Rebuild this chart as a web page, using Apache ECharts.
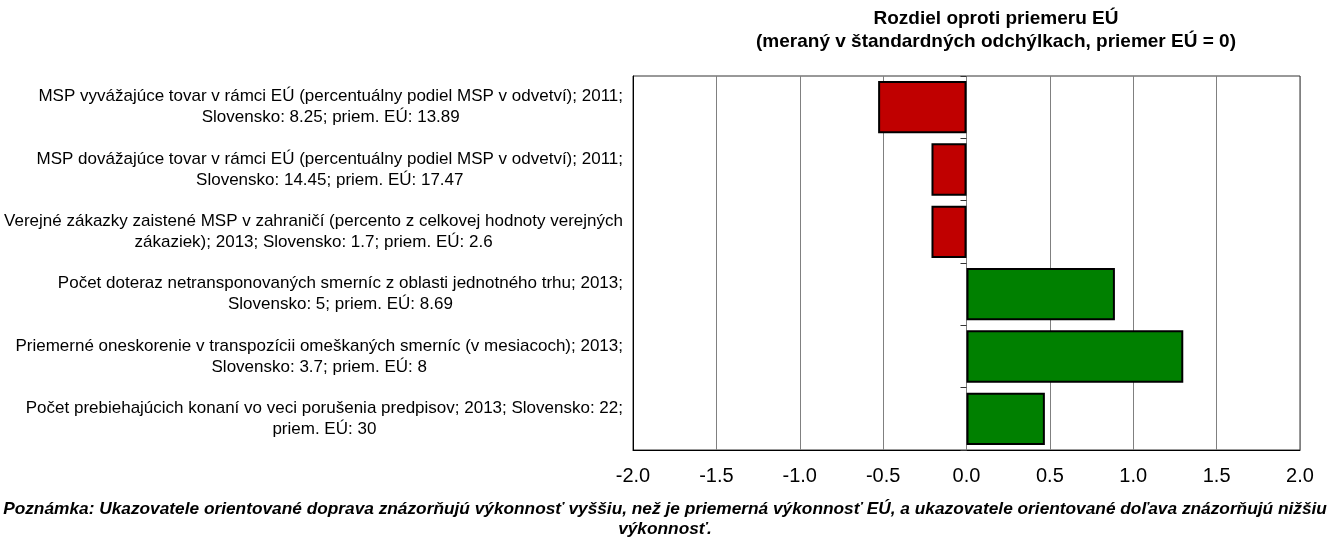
<!DOCTYPE html>
<html>
<head>
<meta charset="utf-8">
<title>Rozdiel oproti priemeru EÚ</title>
<script src="https://cdn.jsdelivr.net/npm/echarts@6/dist/echarts.min.js"></script>
<style>
  html, body { margin: 0; padding: 0; background: #fff; }
  #chart { width: 1330px; height: 540px; }
</style>
</head>
<body>
<div id="chart"></div>
<script>
// ukazovatele (zhora nadol)
var categories = [
    'MSP vyvážajúce tovar v rámci EÚ (percentuálny podiel MSP v odvetví); 2011;\nSlovensko: 8.25; priem. EÚ: 13.89',
    'MSP dovážajúce tovar v rámci EÚ (percentuálny podiel MSP v odvetví); 2011;\nSlovensko: 14.45; priem. EÚ: 17.47',
    'Verejné zákazky zaistené MSP v zahraničí (percento z celkovej hodnoty verejných\nzákaziek); 2013; Slovensko: 1.7; priem. EÚ: 2.6',
    'Počet doteraz netransponovaných smerníc z oblasti jednotného trhu; 2013;\nSlovensko: 5; priem. EÚ: 8.69',
    'Priemerné oneskorenie v transpozícii omeškaných smerníc (v mesiacoch); 2013;\nSlovensko: 3.7; priem. EÚ: 8',
    'Počet prebiehajúcich konaní vo veci porušenia predpisov; 2013; Slovensko: 22;\npriem. EÚ: 30'
];
// rozdiel v smerodajných odchýlkach
var values = [-0.53, -0.21, -0.21, 0.89, 1.30, 0.47];
// os x
var xMin = -2, xMax = 2, xStep = 0.5;

var titleText = 'Rozdiel oproti priemeru EÚ\n(meraný v štandardných odchýlkach, priemer EÚ = 0)';
var noteText = 'Poznámka: Ukazovatele orientované doprava znázorňujú výkonnosť vyššiu, než je priemerná výkonnosť EÚ, a ukazovatele orientované doľava znázorňujú nižšiu\nvýkonnosť.';

var font = '"Liberation Sans", Arial, sans-serif';

var myChart = echarts.init(document.getElementById('chart'));
myChart.setOption({
    animation: false,
    textStyle: { fontFamily: font, color: '#000' },
    title: [{
        text: titleText,
        left: 996,
        top: 7,
        padding: 0,
        textAlign: 'center',
        textStyle: { fontFamily: font, fontSize: 19, fontWeight: 'bold', lineHeight: 23, color: '#000' }
    }, {
        text: noteText,
        left: 665,
        top: 499,
        padding: 0,
        textAlign: 'center',
        textStyle: { fontFamily: font, fontSize: 17.3, fontWeight: 'bold', fontStyle: 'italic', lineHeight: 20, color: '#000' }
    }],
    grid: {
        left: 633,
        right: 30,
        top: 76,
        bottom: 90,
        show: true,
        borderColor: '#333',
        borderWidth: 1
    },
    xAxis: {
        type: 'value',
        min: xMin,
        max: xMax,
        interval: xStep,
        axisLine: { show: true, onZero: false, lineStyle: { color: '#000' } },
        axisTick: { show: false },
        axisLabel: {
            fontFamily: font,
            fontSize: 20,
            color: '#000',
            margin: 16,
            formatter: function (v) { return v.toFixed(1); }
        },
        splitLine: { lineStyle: { color: '#808080' } }
    },
    yAxis: [{
        type: 'category',
        data: categories,
        inverse: true,
        position: 'left',
        axisLine: { show: true, onZero: false, lineStyle: { color: '#000' } },
        axisTick: { show: false },
        axisLabel: {
            margin: 10,
            formatter: function (v) {
                return v.split('\n').map(function (l) { return '{c|' + l + '}'; }).join('\n');
            },
            rich: {
                c: { align: 'center', fontFamily: font, fontSize: 17, lineHeight: 21, color: '#000' }
            }
        }
    }, {
        // krátke značky kategórií na nulovej osi
        type: 'category',
        data: categories,
        inverse: true,
        position: 'left',
        axisLine: { show: false, onZero: true },
        axisTick: { show: true, length: 6, lineStyle: { color: '#333' } },
        axisLabel: { show: false }
    }],
    series: [{
        type: 'bar',
        yAxisIndex: 0,
        data: values,
        barWidth: '84%',
        itemStyle: {
            color: function (p) { return p.value < 0 ? '#C00000' : '#008000'; },
            borderColor: '#000',
            borderWidth: 2
        }
    }]
});
</script>
</body>
</html>
